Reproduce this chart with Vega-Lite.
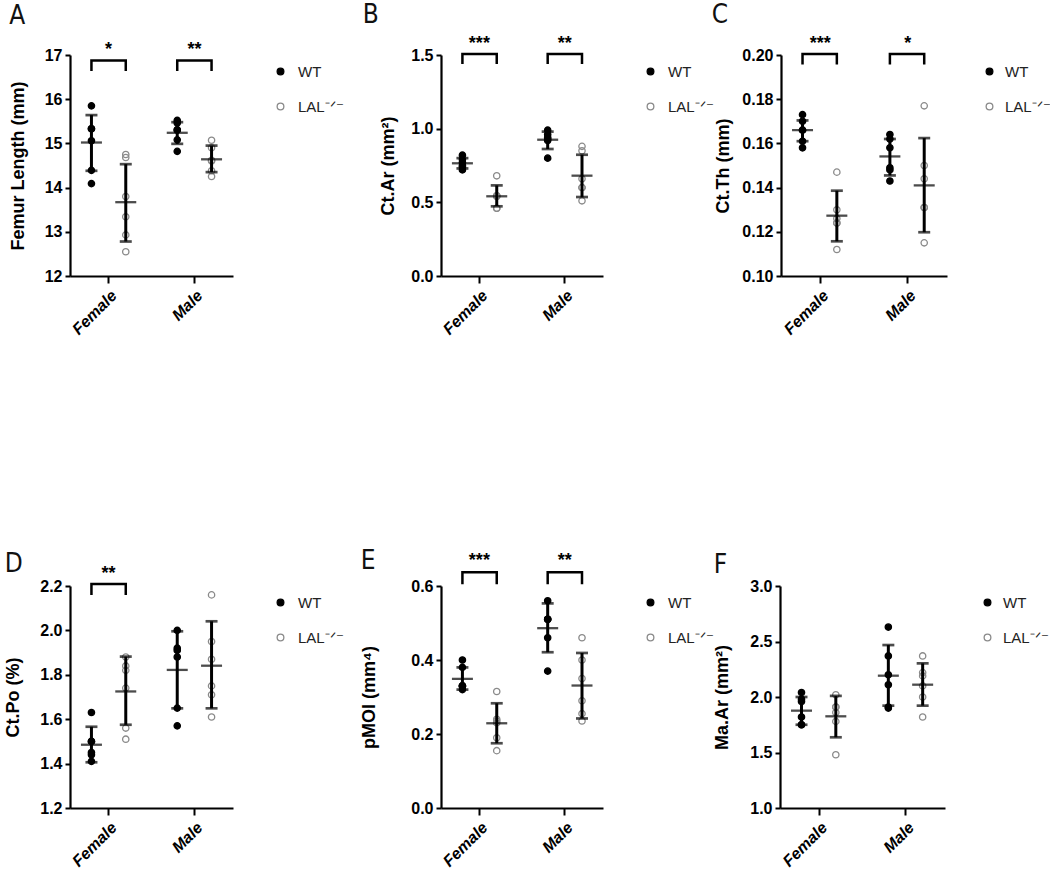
{
  "$schema": "https://vega.github.io/schema/vega-lite/v6.json",
  "padding": {"left": 4, "top": 1, "right": 0, "bottom": 0},
  "background": "white",
  "config": {
    "view": {"stroke": null},
    "axis": {"grid": false, "domainColor": "#000", "domainWidth": 2.2, "tickColor": "#000", "tickWidth": 2, "labelColor": "#000", "titleColor": "#000"},
    "axisY": {"tickSize": 5, "labelFont": "Liberation Sans", "labelFontSize": 16, "labelFontWeight": "bold", "labelPadding": 3, "titleFont": "Liberation Sans", "titleFontSize": 18, "titleFontWeight": "bold", "titlePadding": 17},
    "axisX": {"labelAngle": -45, "labelFont": "Liberation Sans", "labelFontSize": 16, "labelFontStyle": "italic", "labelFontWeight": "bold", "tickSize": 7, "labelPadding": 4},
    "legend": {"orient": "right", "offset": 31, "padding": 9, "symbolSize": 45, "symbolStrokeWidth": 1.3, "labelFont": "Liberation Sans", "labelFontSize": 15, "labelColor": "#222", "rowPadding": 19, "labelOffset": 10},
    "title": {"anchor": "start", "frame": "bounds", "fontSize": 26, "fontWeight": "normal", "font": "DejaVu Sans Condensed", "color": "#111"}
  },
  "datasets": {
    "pts": [
      {"panel":"A","sex":"Female","geno":"WT","v":15.85},{"panel":"A","sex":"Female","geno":"WT","v":15.33},{"panel":"A","sex":"Female","geno":"WT","v":15.33},{"panel":"A","sex":"Female","geno":"WT","v":15.06},{"panel":"A","sex":"Female","geno":"WT","v":14.39},{"panel":"A","sex":"Female","geno":"WT","v":14.09},
      {"panel":"A","sex":"Female","geno":"LAL⁻ᐟ⁻","v":14.75},{"panel":"A","sex":"Female","geno":"LAL⁻ᐟ⁻","v":14.68},{"panel":"A","sex":"Female","geno":"LAL⁻ᐟ⁻","v":13.8},{"panel":"A","sex":"Female","geno":"LAL⁻ᐟ⁻","v":13.34},{"panel":"A","sex":"Female","geno":"LAL⁻ᐟ⁻","v":12.93},{"panel":"A","sex":"Female","geno":"LAL⁻ᐟ⁻","v":12.55},
      {"panel":"A","sex":"Male","geno":"WT","v":15.52},{"panel":"A","sex":"Male","geno":"WT","v":15.46},{"panel":"A","sex":"Male","geno":"WT","v":15.31},{"panel":"A","sex":"Male","geno":"WT","v":15.3},{"panel":"A","sex":"Male","geno":"WT","v":15.08},{"panel":"A","sex":"Male","geno":"WT","v":14.82},
      {"panel":"A","sex":"Male","geno":"LAL⁻ᐟ⁻","v":15.07},{"panel":"A","sex":"Male","geno":"LAL⁻ᐟ⁻","v":14.9},{"panel":"A","sex":"Male","geno":"LAL⁻ᐟ⁻","v":14.62},{"panel":"A","sex":"Male","geno":"LAL⁻ᐟ⁻","v":14.6},{"panel":"A","sex":"Male","geno":"LAL⁻ᐟ⁻","v":14.38},{"panel":"A","sex":"Male","geno":"LAL⁻ᐟ⁻","v":14.25},
      {"panel":"B","sex":"Female","geno":"WT","v":0.82},{"panel":"B","sex":"Female","geno":"WT","v":0.79},{"panel":"B","sex":"Female","geno":"WT","v":0.77},{"panel":"B","sex":"Female","geno":"WT","v":0.75},{"panel":"B","sex":"Female","geno":"WT","v":0.74},{"panel":"B","sex":"Female","geno":"WT","v":0.72},
      {"panel":"B","sex":"Female","geno":"LAL⁻ᐟ⁻","v":0.68},{"panel":"B","sex":"Female","geno":"LAL⁻ᐟ⁻","v":0.545},{"panel":"B","sex":"Female","geno":"LAL⁻ᐟ⁻","v":0.545},{"panel":"B","sex":"Female","geno":"LAL⁻ᐟ⁻","v":0.54},{"panel":"B","sex":"Female","geno":"LAL⁻ᐟ⁻","v":0.46},{"panel":"B","sex":"Female","geno":"LAL⁻ᐟ⁻","v":0.46},
      {"panel":"B","sex":"Male","geno":"WT","v":0.99},{"panel":"B","sex":"Male","geno":"WT","v":0.96},{"panel":"B","sex":"Male","geno":"WT","v":0.94},{"panel":"B","sex":"Male","geno":"WT","v":0.93},{"panel":"B","sex":"Male","geno":"WT","v":0.92},{"panel":"B","sex":"Male","geno":"WT","v":0.8},
      {"panel":"B","sex":"Male","geno":"LAL⁻ᐟ⁻","v":0.88},{"panel":"B","sex":"Male","geno":"LAL⁻ᐟ⁻","v":0.85},{"panel":"B","sex":"Male","geno":"LAL⁻ᐟ⁻","v":0.66},{"panel":"B","sex":"Male","geno":"LAL⁻ᐟ⁻","v":0.6},{"panel":"B","sex":"Male","geno":"LAL⁻ᐟ⁻","v":0.6},{"panel":"B","sex":"Male","geno":"LAL⁻ᐟ⁻","v":0.51},
      {"panel":"C","sex":"Female","geno":"WT","v":0.173},{"panel":"C","sex":"Female","geno":"WT","v":0.17},{"panel":"C","sex":"Female","geno":"WT","v":0.166},{"panel":"C","sex":"Female","geno":"WT","v":0.166},{"panel":"C","sex":"Female","geno":"WT","v":0.161},{"panel":"C","sex":"Female","geno":"WT","v":0.158},
      {"panel":"C","sex":"Female","geno":"LAL⁻ᐟ⁻","v":0.147},{"panel":"C","sex":"Female","geno":"LAL⁻ᐟ⁻","v":0.13},{"panel":"C","sex":"Female","geno":"LAL⁻ᐟ⁻","v":0.126},{"panel":"C","sex":"Female","geno":"LAL⁻ᐟ⁻","v":0.124},{"panel":"C","sex":"Female","geno":"LAL⁻ᐟ⁻","v":0.124},{"panel":"C","sex":"Female","geno":"LAL⁻ᐟ⁻","v":0.112},
      {"panel":"C","sex":"Male","geno":"WT","v":0.164},{"panel":"C","sex":"Male","geno":"WT","v":0.162},{"panel":"C","sex":"Male","geno":"WT","v":0.158},{"panel":"C","sex":"Male","geno":"WT","v":0.149},{"panel":"C","sex":"Male","geno":"WT","v":0.148},{"panel":"C","sex":"Male","geno":"WT","v":0.143},
      {"panel":"C","sex":"Male","geno":"LAL⁻ᐟ⁻","v":0.177},{"panel":"C","sex":"Male","geno":"LAL⁻ᐟ⁻","v":0.15},{"panel":"C","sex":"Male","geno":"LAL⁻ᐟ⁻","v":0.144},{"panel":"C","sex":"Male","geno":"LAL⁻ᐟ⁻","v":0.131},{"panel":"C","sex":"Male","geno":"LAL⁻ᐟ⁻","v":0.131},{"panel":"C","sex":"Male","geno":"LAL⁻ᐟ⁻","v":0.115},
      {"panel":"D","sex":"Female","geno":"WT","v":1.63},{"panel":"D","sex":"Female","geno":"WT","v":1.5},{"panel":"D","sex":"Female","geno":"WT","v":1.5},{"panel":"D","sex":"Female","geno":"WT","v":1.45},{"panel":"D","sex":"Female","geno":"WT","v":1.44},{"panel":"D","sex":"Female","geno":"WT","v":1.41},
      {"panel":"D","sex":"Female","geno":"LAL⁻ᐟ⁻","v":1.88},{"panel":"D","sex":"Female","geno":"LAL⁻ᐟ⁻","v":1.84},{"panel":"D","sex":"Female","geno":"LAL⁻ᐟ⁻","v":1.82},{"panel":"D","sex":"Female","geno":"LAL⁻ᐟ⁻","v":1.74},{"panel":"D","sex":"Female","geno":"LAL⁻ᐟ⁻","v":1.56},{"panel":"D","sex":"Female","geno":"LAL⁻ᐟ⁻","v":1.51},
      {"panel":"D","sex":"Male","geno":"WT","v":2.0},{"panel":"D","sex":"Male","geno":"WT","v":1.92},{"panel":"D","sex":"Male","geno":"WT","v":1.91},{"panel":"D","sex":"Male","geno":"WT","v":1.88},{"panel":"D","sex":"Male","geno":"WT","v":1.65},{"panel":"D","sex":"Male","geno":"WT","v":1.57},
      {"panel":"D","sex":"Male","geno":"LAL⁻ᐟ⁻","v":2.16},{"panel":"D","sex":"Male","geno":"LAL⁻ᐟ⁻","v":1.95},{"panel":"D","sex":"Male","geno":"LAL⁻ᐟ⁻","v":1.87},{"panel":"D","sex":"Male","geno":"LAL⁻ᐟ⁻","v":1.75},{"panel":"D","sex":"Male","geno":"LAL⁻ᐟ⁻","v":1.71},{"panel":"D","sex":"Male","geno":"LAL⁻ᐟ⁻","v":1.61},
      {"panel":"E","sex":"Female","geno":"WT","v":0.4},{"panel":"E","sex":"Female","geno":"WT","v":0.38},{"panel":"E","sex":"Female","geno":"WT","v":0.33},{"panel":"E","sex":"Female","geno":"WT","v":0.33},{"panel":"E","sex":"Female","geno":"WT","v":0.33},{"panel":"E","sex":"Female","geno":"WT","v":0.32},
      {"panel":"E","sex":"Female","geno":"LAL⁻ᐟ⁻","v":0.315},{"panel":"E","sex":"Female","geno":"LAL⁻ᐟ⁻","v":0.24},{"panel":"E","sex":"Female","geno":"LAL⁻ᐟ⁻","v":0.235},{"panel":"E","sex":"Female","geno":"LAL⁻ᐟ⁻","v":0.23},{"panel":"E","sex":"Female","geno":"LAL⁻ᐟ⁻","v":0.19},{"panel":"E","sex":"Female","geno":"LAL⁻ᐟ⁻","v":0.155},
      {"panel":"E","sex":"Male","geno":"WT","v":0.56},{"panel":"E","sex":"Male","geno":"WT","v":0.51},{"panel":"E","sex":"Male","geno":"WT","v":0.51},{"panel":"E","sex":"Male","geno":"WT","v":0.51},{"panel":"E","sex":"Male","geno":"WT","v":0.46},{"panel":"E","sex":"Male","geno":"WT","v":0.37},
      {"panel":"E","sex":"Male","geno":"LAL⁻ᐟ⁻","v":0.46},{"panel":"E","sex":"Male","geno":"LAL⁻ᐟ⁻","v":0.4},{"panel":"E","sex":"Male","geno":"LAL⁻ᐟ⁻","v":0.35},{"panel":"E","sex":"Male","geno":"LAL⁻ᐟ⁻","v":0.29},{"panel":"E","sex":"Male","geno":"LAL⁻ᐟ⁻","v":0.255},{"panel":"E","sex":"Male","geno":"LAL⁻ᐟ⁻","v":0.235},
      {"panel":"F","sex":"Female","geno":"WT","v":2.04},{"panel":"F","sex":"Female","geno":"WT","v":1.98},{"panel":"F","sex":"Female","geno":"WT","v":1.96},{"panel":"F","sex":"Female","geno":"WT","v":1.82},{"panel":"F","sex":"Female","geno":"WT","v":1.75},{"panel":"F","sex":"Female","geno":"WT","v":1.75},
      {"panel":"F","sex":"Female","geno":"LAL⁻ᐟ⁻","v":2.02},{"panel":"F","sex":"Female","geno":"LAL⁻ᐟ⁻","v":1.91},{"panel":"F","sex":"Female","geno":"LAL⁻ᐟ⁻","v":1.91},{"panel":"F","sex":"Female","geno":"LAL⁻ᐟ⁻","v":1.86},{"panel":"F","sex":"Female","geno":"LAL⁻ᐟ⁻","v":1.78},{"panel":"F","sex":"Female","geno":"LAL⁻ᐟ⁻","v":1.48},
      {"panel":"F","sex":"Male","geno":"WT","v":2.63},{"panel":"F","sex":"Male","geno":"WT","v":2.37},{"panel":"F","sex":"Male","geno":"WT","v":2.2},{"panel":"F","sex":"Male","geno":"WT","v":2.11},{"panel":"F","sex":"Male","geno":"WT","v":1.91},{"panel":"F","sex":"Male","geno":"WT","v":1.9},
      {"panel":"F","sex":"Male","geno":"LAL⁻ᐟ⁻","v":2.37},{"panel":"F","sex":"Male","geno":"LAL⁻ᐟ⁻","v":2.22},{"panel":"F","sex":"Male","geno":"LAL⁻ᐟ⁻","v":2.19},{"panel":"F","sex":"Male","geno":"LAL⁻ᐟ⁻","v":2.1},{"panel":"F","sex":"Male","geno":"LAL⁻ᐟ⁻","v":2.0},{"panel":"F","sex":"Male","geno":"LAL⁻ᐟ⁻","v":1.82}
    ],
    "sum": [
      {"panel":"A","sex":"Female","geno":"WT","m":15.02,"lo":14.38,"hi":15.64},
      {"panel":"A","sex":"Female","geno":"LAL⁻ᐟ⁻","m":13.67,"lo":12.78,"hi":14.53},
      {"panel":"A","sex":"Male","geno":"WT","m":15.24,"lo":14.99,"hi":15.48},
      {"panel":"A","sex":"Male","geno":"LAL⁻ᐟ⁻","m":14.64,"lo":14.35,"hi":14.95},
      {"panel":"B","sex":"Female","geno":"WT","m":0.765,"lo":0.73,"hi":0.8},
      {"panel":"B","sex":"Female","geno":"LAL⁻ᐟ⁻","m":0.541,"lo":0.473,"hi":0.615},
      {"panel":"B","sex":"Male","geno":"WT","m":0.925,"lo":0.862,"hi":0.98},
      {"panel":"B","sex":"Male","geno":"LAL⁻ᐟ⁻","m":0.681,"lo":0.536,"hi":0.823},
      {"panel":"C","sex":"Female","geno":"WT","m":0.166,"lo":0.161,"hi":0.1704},
      {"panel":"C","sex":"Female","geno":"LAL⁻ᐟ⁻","m":0.1273,"lo":0.1157,"hi":0.1386},
      {"panel":"C","sex":"Male","geno":"WT","m":0.1541,"lo":0.1455,"hi":0.162},
      {"panel":"C","sex":"Male","geno":"LAL⁻ᐟ⁻","m":0.141,"lo":0.1198,"hi":0.1624},
      {"panel":"D","sex":"Female","geno":"WT","m":1.485,"lo":1.406,"hi":1.566},
      {"panel":"D","sex":"Female","geno":"LAL⁻ᐟ⁻","m":1.725,"lo":1.575,"hi":1.882},
      {"panel":"D","sex":"Male","geno":"WT","m":1.822,"lo":1.649,"hi":1.996},
      {"panel":"D","sex":"Male","geno":"LAL⁻ᐟ⁻","m":1.841,"lo":1.649,"hi":2.041},
      {"panel":"E","sex":"Female","geno":"WT","m":0.349,"lo":0.32,"hi":0.38},
      {"panel":"E","sex":"Female","geno":"LAL⁻ᐟ⁻","m":0.229,"lo":0.175,"hi":0.283},
      {"panel":"E","sex":"Male","geno":"WT","m":0.486,"lo":0.421,"hi":0.553},
      {"panel":"E","sex":"Male","geno":"LAL⁻ᐟ⁻","m":0.331,"lo":0.242,"hi":0.419},
      {"panel":"F","sex":"Female","geno":"WT","m":1.877,"lo":1.75,"hi":2.0},
      {"panel":"F","sex":"Female","geno":"LAL⁻ᐟ⁻","m":1.826,"lo":1.637,"hi":2.01},
      {"panel":"F","sex":"Male","geno":"WT","m":2.192,"lo":1.922,"hi":2.468},
      {"panel":"F","sex":"Male","geno":"LAL⁻ᐟ⁻","m":2.111,"lo":1.922,"hi":2.303}
    ],
    "br": [
      {"panel":"A","sex":"Female","geno":"WT","yb":16.638,"o":1},{"panel":"A","sex":"Female","geno":"WT","yb":16.876,"o":2},{"panel":"A","sex":"Female","geno":"LAL⁻ᐟ⁻","yb":16.876,"o":3},{"panel":"A","sex":"Female","geno":"LAL⁻ᐟ⁻","yb":16.638,"o":4},
      {"panel":"A","sex":"Male","geno":"WT","yb":16.638,"o":1},{"panel":"A","sex":"Male","geno":"WT","yb":16.876,"o":2},{"panel":"A","sex":"Male","geno":"LAL⁻ᐟ⁻","yb":16.876,"o":3},{"panel":"A","sex":"Male","geno":"LAL⁻ᐟ⁻","yb":16.638,"o":4},
      {"panel":"B","sex":"Female","geno":"WT","yb":1.439,"o":1},{"panel":"B","sex":"Female","geno":"WT","yb":1.507,"o":2},{"panel":"B","sex":"Female","geno":"LAL⁻ᐟ⁻","yb":1.507,"o":3},{"panel":"B","sex":"Female","geno":"LAL⁻ᐟ⁻","yb":1.439,"o":4},
      {"panel":"B","sex":"Male","geno":"WT","yb":1.439,"o":1},{"panel":"B","sex":"Male","geno":"WT","yb":1.507,"o":2},{"panel":"B","sex":"Male","geno":"LAL⁻ᐟ⁻","yb":1.507,"o":3},{"panel":"B","sex":"Male","geno":"LAL⁻ᐟ⁻","yb":1.439,"o":4},
      {"panel":"C","sex":"Female","geno":"WT","yb":0.1957,"o":1},{"panel":"C","sex":"Female","geno":"WT","yb":0.2005,"o":2},{"panel":"C","sex":"Female","geno":"LAL⁻ᐟ⁻","yb":0.2005,"o":3},{"panel":"C","sex":"Female","geno":"LAL⁻ᐟ⁻","yb":0.1957,"o":4},
      {"panel":"C","sex":"Male","geno":"WT","yb":0.1957,"o":1},{"panel":"C","sex":"Male","geno":"WT","yb":0.2005,"o":2},{"panel":"C","sex":"Male","geno":"LAL⁻ᐟ⁻","yb":0.2005,"o":3},{"panel":"C","sex":"Male","geno":"LAL⁻ᐟ⁻","yb":0.1957,"o":4},
      {"panel":"D","sex":"Female","geno":"WT","yb":2.159,"o":1},{"panel":"D","sex":"Female","geno":"WT","yb":2.209,"o":2},{"panel":"D","sex":"Female","geno":"LAL⁻ᐟ⁻","yb":2.209,"o":3},{"panel":"D","sex":"Female","geno":"LAL⁻ᐟ⁻","yb":2.159,"o":4},
      {"panel":"E","sex":"Female","geno":"WT","yb":0.605,"o":1},{"panel":"E","sex":"Female","geno":"WT","yb":0.637,"o":2},{"panel":"E","sex":"Female","geno":"LAL⁻ᐟ⁻","yb":0.637,"o":3},{"panel":"E","sex":"Female","geno":"LAL⁻ᐟ⁻","yb":0.605,"o":4},
      {"panel":"E","sex":"Male","geno":"WT","yb":0.605,"o":1},{"panel":"E","sex":"Male","geno":"WT","yb":0.637,"o":2},{"panel":"E","sex":"Male","geno":"LAL⁻ᐟ⁻","yb":0.637,"o":3},{"panel":"E","sex":"Male","geno":"LAL⁻ᐟ⁻","yb":0.605,"o":4}
    ],
    "st": [
      {"panel":"A","sex":"Female","y":17.197,"t":"*"},{"panel":"A","sex":"Male","y":17.197,"t":"**"},
      {"panel":"B","sex":"Female","y":1.604,"t":"***"},{"panel":"B","sex":"Male","y":1.604,"t":"**"},
      {"panel":"C","sex":"Female","y":0.2069,"t":"***"},{"panel":"C","sex":"Male","y":0.2069,"t":"*"},
      {"panel":"D","sex":"Female","y":2.273,"t":"**"},
      {"panel":"E","sex":"Female","y":0.678,"t":"***"},{"panel":"E","sex":"Male","y":0.678,"t":"**"}
    ]
  },
  "spacing": 210,
  "resolve": {"scale": {"fill": "independent", "stroke": "independent"}},
  "vconcat": [
    {
      "spacing": 9,
      "resolve": {"scale": {"fill": "independent", "stroke": "independent"}},
      "hconcat": [
        {
          "width": 163, "height": 221,
          "title": {"text": "A", "offset": 12},
          "layer": [
            {"data": {"name": "pts"}, "transform": [{"filter": "datum.panel == 'A'"}],
             "mark": {"type": "point", "size": 40, "strokeWidth": 1.3, "opacity": 1},
             "encoding": {
               "x": {"field": "sex", "type": "nominal", "scale": {"domain": ["Female","Male"], "paddingInner": 0.2, "paddingOuter": 0.05}, "axis": {"title": null}},
               "xOffset": {"field": "geno", "type": "nominal", "scale": {"domain": ["WT","LAL⁻ᐟ⁻"], "padding": 0}},
               "y": {"field": "v", "type": "quantitative", "scale": {"domain": [12,17], "nice": false, "zero": false}, "axis": {"title": "Femur Length (mm)", "titlePadding": 17, "values": [12,13,14,15,16,17], "format": "d"}},
               "fill": {"field": "geno", "type": "nominal", "scale": {"domain": ["WT","LAL⁻ᐟ⁻"], "range": ["#000000","transparent"]}, "legend": {"title": null}},
               "stroke": {"field": "geno", "type": "nominal", "scale": {"domain": ["WT","LAL⁻ᐟ⁻"], "range": ["#000000","#8a8a8a"]}, "legend": {"title": null}}
             }},
            {"data": {"name": "sum"}, "transform": [{"filter": "datum.panel == 'A'"}],
             "mark": {"type": "rule", "strokeWidth": 3, "color": "#000"},
             "encoding": {
               "x": {"field": "sex", "type": "nominal"},
               "xOffset": {"field": "geno", "type": "nominal"},
               "y": {"field": "lo", "type": "quantitative", "scale": {"domain": [12,17], "nice": false, "zero": false}},
               "y2": {"field": "hi"}
             }},
            {"data": {"name": "sum"}, "transform": [{"filter": "datum.panel == 'A'"}],
             "mark": {"type": "tick", "orient": "horizontal", "size": 21, "thickness": 2.3, "color": "#000"},
             "encoding": {
               "x": {"field": "sex", "type": "nominal"},
               "xOffset": {"field": "geno", "type": "nominal"},
               "y": {"field": "m", "type": "quantitative", "scale": {"domain": [12,17], "nice": false, "zero": false}}
             }},
            {"data": {"name": "sum"}, "transform": [{"filter": "datum.panel == 'A'"}],
             "mark": {"type": "tick", "orient": "horizontal", "size": 12, "thickness": 2.7, "color": "#000"},
             "encoding": {
               "x": {"field": "sex", "type": "nominal"},
               "xOffset": {"field": "geno", "type": "nominal"},
               "y": {"field": "lo", "type": "quantitative", "scale": {"domain": [12,17], "nice": false, "zero": false}}
             }},
            {"data": {"name": "sum"}, "transform": [{"filter": "datum.panel == 'A'"}],
             "mark": {"type": "tick", "orient": "horizontal", "size": 12, "thickness": 2.7, "color": "#000"},
             "encoding": {
               "x": {"field": "sex", "type": "nominal"},
               "xOffset": {"field": "geno", "type": "nominal"},
               "y": {"field": "hi", "type": "quantitative", "scale": {"domain": [12,17], "nice": false, "zero": false}}
             }},
            {"data": {"name": "br"}, "transform": [{"filter": "datum.panel == 'A'"}],
             "mark": {"type": "line", "color": "#000", "strokeWidth": 2.5, "strokeJoin": "miter"},
             "encoding": {
               "x": {"field": "sex", "type": "nominal"},
               "xOffset": {"field": "geno", "type": "nominal"},
               "y": {"field": "yb", "type": "quantitative", "scale": {"domain": [12,17], "nice": false, "zero": false}},
               "detail": {"field": "sex"},
               "order": {"field": "o", "type": "quantitative"}
             }},
            {"data": {"name": "st"}, "transform": [{"filter": "datum.panel == 'A'"}],
             "mark": {"type": "text", "fontSize": 18, "fontWeight": "bold", "font": "Liberation Sans", "baseline": "middle", "dy": 4, "color": "#000"},
             "encoding": {
               "x": {"field": "sex", "type": "nominal"},
               "y": {"field": "y", "type": "quantitative", "scale": {"domain": [12,17], "nice": false, "zero": false}},
               "text": {"field": "t"}
             }}
          ]
        },
        {
          "spacing": -12,
          "resolve": {"scale": {"fill": "independent", "stroke": "independent"}},
          "hconcat": [
            {
              "width": 162, "height": 221,
              "title": {"text": "B", "offset": 7, "dx": -17},
              "layer": [
                {"data": {"name": "pts"}, "transform": [{"filter": "datum.panel == 'B'"}],
                 "mark": {"type": "point", "size": 40, "strokeWidth": 1.3, "opacity": 1},
                 "encoding": {
                   "x": {"field": "sex", "type": "nominal", "scale": {"domain": ["Female","Male"], "paddingInner": 0.2, "paddingOuter": 0.05}, "axis": {"title": null}},
                   "xOffset": {"field": "geno", "type": "nominal", "scale": {"domain": ["WT","LAL⁻ᐟ⁻"], "padding": 0}},
                   "y": {"field": "v", "type": "quantitative", "scale": {"domain": [0,1.5], "nice": false, "zero": false}, "axis": {"title": "Ct.Ar (mm²)", "titlePadding": 13, "values": [0,0.5,1,1.5], "format": ".1f"}},
                   "fill": {"field": "geno", "type": "nominal", "scale": {"domain": ["WT","LAL⁻ᐟ⁻"], "range": ["#000000","transparent"]}, "legend": {"title": null}},
                   "stroke": {"field": "geno", "type": "nominal", "scale": {"domain": ["WT","LAL⁻ᐟ⁻"], "range": ["#000000","#8a8a8a"]}, "legend": {"title": null}}
                 }},
                {"data": {"name": "sum"}, "transform": [{"filter": "datum.panel == 'B'"}],
                 "mark": {"type": "rule", "strokeWidth": 3, "color": "#000"},
                 "encoding": {
                   "x": {"field": "sex", "type": "nominal"},
                   "xOffset": {"field": "geno", "type": "nominal"},
                   "y": {"field": "lo", "type": "quantitative", "scale": {"domain": [0,1.5], "nice": false, "zero": false}},
                   "y2": {"field": "hi"}
                 }},
                {"data": {"name": "sum"}, "transform": [{"filter": "datum.panel == 'B'"}],
                 "mark": {"type": "tick", "orient": "horizontal", "size": 21, "thickness": 2.3, "color": "#000"},
                 "encoding": {
                   "x": {"field": "sex", "type": "nominal"},
                   "xOffset": {"field": "geno", "type": "nominal"},
                   "y": {"field": "m", "type": "quantitative", "scale": {"domain": [0,1.5], "nice": false, "zero": false}}
                 }},
                {"data": {"name": "sum"}, "transform": [{"filter": "datum.panel == 'B'"}],
                 "mark": {"type": "tick", "orient": "horizontal", "size": 12, "thickness": 2.7, "color": "#000"},
                 "encoding": {
                   "x": {"field": "sex", "type": "nominal"},
                   "xOffset": {"field": "geno", "type": "nominal"},
                   "y": {"field": "lo", "type": "quantitative", "scale": {"domain": [0,1.5], "nice": false, "zero": false}}
                 }},
                {"data": {"name": "sum"}, "transform": [{"filter": "datum.panel == 'B'"}],
                 "mark": {"type": "tick", "orient": "horizontal", "size": 12, "thickness": 2.7, "color": "#000"},
                 "encoding": {
                   "x": {"field": "sex", "type": "nominal"},
                   "xOffset": {"field": "geno", "type": "nominal"},
                   "y": {"field": "hi", "type": "quantitative", "scale": {"domain": [0,1.5], "nice": false, "zero": false}}
                 }},
                {"data": {"name": "br"}, "transform": [{"filter": "datum.panel == 'B'"}],
                 "mark": {"type": "line", "color": "#000", "strokeWidth": 2.5, "strokeJoin": "miter"},
                 "encoding": {
                   "x": {"field": "sex", "type": "nominal"},
                   "xOffset": {"field": "geno", "type": "nominal"},
                   "y": {"field": "yb", "type": "quantitative", "scale": {"domain": [0,1.5], "nice": false, "zero": false}},
                   "detail": {"field": "sex"},
                   "order": {"field": "o", "type": "quantitative"}
                 }},
                {"data": {"name": "st"}, "transform": [{"filter": "datum.panel == 'B'"}],
                 "mark": {"type": "text", "fontSize": 18, "fontWeight": "bold", "font": "Liberation Sans", "baseline": "middle", "dy": 4, "color": "#000"},
                 "encoding": {
                   "x": {"field": "sex", "type": "nominal"},
                   "y": {"field": "y", "type": "quantitative", "scale": {"domain": [0,1.5], "nice": false, "zero": false}},
                   "text": {"field": "t"}
                 }}
              ]
            },
            {
              "width": 166, "height": 221,
              "title": {"text": "C", "offset": 7, "dx": -3},
              "layer": [
                {"data": {"name": "pts"}, "transform": [{"filter": "datum.panel == 'C'"}],
                 "mark": {"type": "point", "size": 40, "strokeWidth": 1.3, "opacity": 1},
                 "encoding": {
                   "x": {"field": "sex", "type": "nominal", "scale": {"domain": ["Female","Male"], "paddingInner": 0.2, "paddingOuter": 0.05}, "axis": {"title": null}},
                   "xOffset": {"field": "geno", "type": "nominal", "scale": {"domain": ["WT","LAL⁻ᐟ⁻"], "padding": 0}},
                   "y": {"field": "v", "type": "quantitative", "scale": {"domain": [0.1,0.2], "nice": false, "zero": false}, "axis": {"title": "Ct.Th (mm)", "titlePadding": 9, "values": [0.1,0.12,0.14,0.16,0.18,0.2], "format": ".2f"}},
                   "fill": {"field": "geno", "type": "nominal", "scale": {"domain": ["WT","LAL⁻ᐟ⁻"], "range": ["#000000","transparent"]}, "legend": {"title": null, "offset": 26, "labelOffset": 8}},
                   "stroke": {"field": "geno", "type": "nominal", "scale": {"domain": ["WT","LAL⁻ᐟ⁻"], "range": ["#000000","#8a8a8a"]}, "legend": {"title": null, "offset": 26, "labelOffset": 8}}
                 }},
                {"data": {"name": "sum"}, "transform": [{"filter": "datum.panel == 'C'"}],
                 "mark": {"type": "rule", "strokeWidth": 3, "color": "#000"},
                 "encoding": {
                   "x": {"field": "sex", "type": "nominal"},
                   "xOffset": {"field": "geno", "type": "nominal"},
                   "y": {"field": "lo", "type": "quantitative", "scale": {"domain": [0.1,0.2], "nice": false, "zero": false}},
                   "y2": {"field": "hi"}
                 }},
                {"data": {"name": "sum"}, "transform": [{"filter": "datum.panel == 'C'"}],
                 "mark": {"type": "tick", "orient": "horizontal", "size": 21, "thickness": 2.3, "color": "#000"},
                 "encoding": {
                   "x": {"field": "sex", "type": "nominal"},
                   "xOffset": {"field": "geno", "type": "nominal"},
                   "y": {"field": "m", "type": "quantitative", "scale": {"domain": [0.1,0.2], "nice": false, "zero": false}}
                 }},
                {"data": {"name": "sum"}, "transform": [{"filter": "datum.panel == 'C'"}],
                 "mark": {"type": "tick", "orient": "horizontal", "size": 12, "thickness": 2.7, "color": "#000"},
                 "encoding": {
                   "x": {"field": "sex", "type": "nominal"},
                   "xOffset": {"field": "geno", "type": "nominal"},
                   "y": {"field": "lo", "type": "quantitative", "scale": {"domain": [0.1,0.2], "nice": false, "zero": false}}
                 }},
                {"data": {"name": "sum"}, "transform": [{"filter": "datum.panel == 'C'"}],
                 "mark": {"type": "tick", "orient": "horizontal", "size": 12, "thickness": 2.7, "color": "#000"},
                 "encoding": {
                   "x": {"field": "sex", "type": "nominal"},
                   "xOffset": {"field": "geno", "type": "nominal"},
                   "y": {"field": "hi", "type": "quantitative", "scale": {"domain": [0.1,0.2], "nice": false, "zero": false}}
                 }},
                {"data": {"name": "br"}, "transform": [{"filter": "datum.panel == 'C'"}],
                 "mark": {"type": "line", "color": "#000", "strokeWidth": 2.5, "strokeJoin": "miter"},
                 "encoding": {
                   "x": {"field": "sex", "type": "nominal"},
                   "xOffset": {"field": "geno", "type": "nominal"},
                   "y": {"field": "yb", "type": "quantitative", "scale": {"domain": [0.1,0.2], "nice": false, "zero": false}},
                   "detail": {"field": "sex"},
                   "order": {"field": "o", "type": "quantitative"}
                 }},
                {"data": {"name": "st"}, "transform": [{"filter": "datum.panel == 'C'"}],
                 "mark": {"type": "text", "fontSize": 18, "fontWeight": "bold", "font": "Liberation Sans", "baseline": "middle", "dy": 4, "color": "#000"},
                 "encoding": {
                   "x": {"field": "sex", "type": "nominal"},
                   "y": {"field": "y", "type": "quantitative", "scale": {"domain": [0.1,0.2], "nice": false, "zero": false}},
                   "text": {"field": "t"}
                 }}
              ]
            }
          ]
        }
      ]
    },
    {
      "spacing": 7,
      "resolve": {"scale": {"fill": "independent", "stroke": "independent"}},
      "hconcat": [
        {
          "width": 163, "height": 222,
          "title": {"text": "D", "offset": -12},
          "layer": [
            {"data": {"name": "pts"}, "transform": [{"filter": "datum.panel == 'D'"}],
             "mark": {"type": "point", "size": 40, "strokeWidth": 1.3, "opacity": 1},
             "encoding": {
               "x": {"field": "sex", "type": "nominal", "scale": {"domain": ["Female","Male"], "paddingInner": 0.2, "paddingOuter": 0.05}, "axis": {"title": null}},
               "xOffset": {"field": "geno", "type": "nominal", "scale": {"domain": ["WT","LAL⁻ᐟ⁻"], "padding": 0}},
               "y": {"field": "v", "type": "quantitative", "scale": {"domain": [1.2,2.2], "nice": false, "zero": false}, "axis": {"title": "Ct.Po (%)", "titlePadding": 17, "values": [1.2,1.4,1.6,1.8,2.0,2.2], "format": ".1f"}},
               "fill": {"field": "geno", "type": "nominal", "scale": {"domain": ["WT","LAL⁻ᐟ⁻"], "range": ["#000000","transparent"]}, "legend": {"title": null}},
               "stroke": {"field": "geno", "type": "nominal", "scale": {"domain": ["WT","LAL⁻ᐟ⁻"], "range": ["#000000","#8a8a8a"]}, "legend": {"title": null}}
             }},
            {"data": {"name": "sum"}, "transform": [{"filter": "datum.panel == 'D'"}],
             "mark": {"type": "rule", "strokeWidth": 3, "color": "#000"},
             "encoding": {
               "x": {"field": "sex", "type": "nominal"},
               "xOffset": {"field": "geno", "type": "nominal"},
               "y": {"field": "lo", "type": "quantitative", "scale": {"domain": [1.2,2.2], "nice": false, "zero": false}},
               "y2": {"field": "hi"}
             }},
            {"data": {"name": "sum"}, "transform": [{"filter": "datum.panel == 'D'"}],
             "mark": {"type": "tick", "orient": "horizontal", "size": 21, "thickness": 2.3, "color": "#000"},
             "encoding": {
               "x": {"field": "sex", "type": "nominal"},
               "xOffset": {"field": "geno", "type": "nominal"},
               "y": {"field": "m", "type": "quantitative", "scale": {"domain": [1.2,2.2], "nice": false, "zero": false}}
             }},
            {"data": {"name": "sum"}, "transform": [{"filter": "datum.panel == 'D'"}],
             "mark": {"type": "tick", "orient": "horizontal", "size": 12, "thickness": 2.7, "color": "#000"},
             "encoding": {
               "x": {"field": "sex", "type": "nominal"},
               "xOffset": {"field": "geno", "type": "nominal"},
               "y": {"field": "lo", "type": "quantitative", "scale": {"domain": [1.2,2.2], "nice": false, "zero": false}}
             }},
            {"data": {"name": "sum"}, "transform": [{"filter": "datum.panel == 'D'"}],
             "mark": {"type": "tick", "orient": "horizontal", "size": 12, "thickness": 2.7, "color": "#000"},
             "encoding": {
               "x": {"field": "sex", "type": "nominal"},
               "xOffset": {"field": "geno", "type": "nominal"},
               "y": {"field": "hi", "type": "quantitative", "scale": {"domain": [1.2,2.2], "nice": false, "zero": false}}
             }},
            {"data": {"name": "br"}, "transform": [{"filter": "datum.panel == 'D'"}],
             "mark": {"type": "line", "color": "#000", "strokeWidth": 2.5, "strokeJoin": "miter"},
             "encoding": {
               "x": {"field": "sex", "type": "nominal"},
               "xOffset": {"field": "geno", "type": "nominal"},
               "y": {"field": "yb", "type": "quantitative", "scale": {"domain": [1.2,2.2], "nice": false, "zero": false}},
               "detail": {"field": "sex"},
               "order": {"field": "o", "type": "quantitative"}
             }},
            {"data": {"name": "st"}, "transform": [{"filter": "datum.panel == 'D'"}],
             "mark": {"type": "text", "fontSize": 18, "fontWeight": "bold", "font": "Liberation Sans", "baseline": "middle", "dy": 4, "color": "#000"},
             "encoding": {
               "x": {"field": "sex", "type": "nominal"},
               "y": {"field": "y", "type": "quantitative", "scale": {"domain": [1.2,2.2], "nice": false, "zero": false}},
               "text": {"field": "t"}
             }}
          ]
        },
        {
          "spacing": -10,
          "resolve": {"scale": {"fill": "independent", "stroke": "independent"}},
          "hconcat": [
            {
              "width": 162, "height": 222,
              "title": {"text": "E", "offset": -22},
              "layer": [
                {"data": {"name": "pts"}, "transform": [{"filter": "datum.panel == 'E'"}],
                 "mark": {"type": "point", "size": 40, "strokeWidth": 1.3, "opacity": 1},
                 "encoding": {
                   "x": {"field": "sex", "type": "nominal", "scale": {"domain": ["Female","Male"], "paddingInner": 0.2, "paddingOuter": 0.05}, "axis": {"title": null}},
                   "xOffset": {"field": "geno", "type": "nominal", "scale": {"domain": ["WT","LAL⁻ᐟ⁻"], "padding": 0}},
                   "y": {"field": "v", "type": "quantitative", "scale": {"domain": [0,0.6], "nice": false, "zero": false}, "axis": {"title": "pMOI (mm⁴)", "titlePadding": 32, "values": [0,0.2,0.4,0.6], "format": ".1f"}},
                   "fill": {"field": "geno", "type": "nominal", "scale": {"domain": ["WT","LAL⁻ᐟ⁻"], "range": ["#000000","transparent"]}, "legend": {"title": null}},
                   "stroke": {"field": "geno", "type": "nominal", "scale": {"domain": ["WT","LAL⁻ᐟ⁻"], "range": ["#000000","#8a8a8a"]}, "legend": {"title": null}}
                 }},
                {"data": {"name": "sum"}, "transform": [{"filter": "datum.panel == 'E'"}],
                 "mark": {"type": "rule", "strokeWidth": 3, "color": "#000"},
                 "encoding": {
                   "x": {"field": "sex", "type": "nominal"},
                   "xOffset": {"field": "geno", "type": "nominal"},
                   "y": {"field": "lo", "type": "quantitative", "scale": {"domain": [0,0.6], "nice": false, "zero": false}},
                   "y2": {"field": "hi"}
                 }},
                {"data": {"name": "sum"}, "transform": [{"filter": "datum.panel == 'E'"}],
                 "mark": {"type": "tick", "orient": "horizontal", "size": 21, "thickness": 2.3, "color": "#000"},
                 "encoding": {
                   "x": {"field": "sex", "type": "nominal"},
                   "xOffset": {"field": "geno", "type": "nominal"},
                   "y": {"field": "m", "type": "quantitative", "scale": {"domain": [0,0.6], "nice": false, "zero": false}}
                 }},
                {"data": {"name": "sum"}, "transform": [{"filter": "datum.panel == 'E'"}],
                 "mark": {"type": "tick", "orient": "horizontal", "size": 12, "thickness": 2.7, "color": "#000"},
                 "encoding": {
                   "x": {"field": "sex", "type": "nominal"},
                   "xOffset": {"field": "geno", "type": "nominal"},
                   "y": {"field": "lo", "type": "quantitative", "scale": {"domain": [0,0.6], "nice": false, "zero": false}}
                 }},
                {"data": {"name": "sum"}, "transform": [{"filter": "datum.panel == 'E'"}],
                 "mark": {"type": "tick", "orient": "horizontal", "size": 12, "thickness": 2.7, "color": "#000"},
                 "encoding": {
                   "x": {"field": "sex", "type": "nominal"},
                   "xOffset": {"field": "geno", "type": "nominal"},
                   "y": {"field": "hi", "type": "quantitative", "scale": {"domain": [0,0.6], "nice": false, "zero": false}}
                 }},
                {"data": {"name": "br"}, "transform": [{"filter": "datum.panel == 'E'"}],
                 "mark": {"type": "line", "color": "#000", "strokeWidth": 2.5, "strokeJoin": "miter"},
                 "encoding": {
                   "x": {"field": "sex", "type": "nominal"},
                   "xOffset": {"field": "geno", "type": "nominal"},
                   "y": {"field": "yb", "type": "quantitative", "scale": {"domain": [0,0.6], "nice": false, "zero": false}},
                   "detail": {"field": "sex"},
                   "order": {"field": "o", "type": "quantitative"}
                 }},
                {"data": {"name": "st"}, "transform": [{"filter": "datum.panel == 'E'"}],
                 "mark": {"type": "text", "fontSize": 18, "fontWeight": "bold", "font": "Liberation Sans", "baseline": "middle", "dy": 4, "color": "#000"},
                 "encoding": {
                   "x": {"field": "sex", "type": "nominal"},
                   "y": {"field": "y", "type": "quantitative", "scale": {"domain": [0,0.6], "nice": false, "zero": false}},
                   "text": {"field": "t"}
                 }}
              ]
            },
            {
              "width": 165, "height": 222,
              "title": {"text": "F", "offset": 0},
              "layer": [
                {"data": {"name": "pts"}, "transform": [{"filter": "datum.panel == 'F'"}],
                 "mark": {"type": "point", "size": 40, "strokeWidth": 1.3, "opacity": 1},
                 "encoding": {
                   "x": {"field": "sex", "type": "nominal", "scale": {"domain": ["Female","Male"], "paddingInner": 0.2, "paddingOuter": 0.05}, "axis": {"title": null}},
                   "xOffset": {"field": "geno", "type": "nominal", "scale": {"domain": ["WT","LAL⁻ᐟ⁻"], "padding": 0}},
                   "y": {"field": "v", "type": "quantitative", "scale": {"domain": [1,3], "nice": false, "zero": false}, "axis": {"title": "Ma.Ar (mm²)", "titlePadding": 18, "values": [1,1.5,2,2.5,3], "format": ".1f"}},
                   "fill": {"field": "geno", "type": "nominal", "scale": {"domain": ["WT","LAL⁻ᐟ⁻"], "range": ["#000000","transparent"]}, "legend": {"title": null, "offset": 26, "labelOffset": 8}},
                   "stroke": {"field": "geno", "type": "nominal", "scale": {"domain": ["WT","LAL⁻ᐟ⁻"], "range": ["#000000","#8a8a8a"]}, "legend": {"title": null, "offset": 26, "labelOffset": 8}}
                 }},
                {"data": {"name": "sum"}, "transform": [{"filter": "datum.panel == 'F'"}],
                 "mark": {"type": "rule", "strokeWidth": 3, "color": "#000"},
                 "encoding": {
                   "x": {"field": "sex", "type": "nominal"},
                   "xOffset": {"field": "geno", "type": "nominal"},
                   "y": {"field": "lo", "type": "quantitative", "scale": {"domain": [1,3], "nice": false, "zero": false}},
                   "y2": {"field": "hi"}
                 }},
                {"data": {"name": "sum"}, "transform": [{"filter": "datum.panel == 'F'"}],
                 "mark": {"type": "tick", "orient": "horizontal", "size": 21, "thickness": 2.3, "color": "#000"},
                 "encoding": {
                   "x": {"field": "sex", "type": "nominal"},
                   "xOffset": {"field": "geno", "type": "nominal"},
                   "y": {"field": "m", "type": "quantitative", "scale": {"domain": [1,3], "nice": false, "zero": false}}
                 }},
                {"data": {"name": "sum"}, "transform": [{"filter": "datum.panel == 'F'"}],
                 "mark": {"type": "tick", "orient": "horizontal", "size": 12, "thickness": 2.7, "color": "#000"},
                 "encoding": {
                   "x": {"field": "sex", "type": "nominal"},
                   "xOffset": {"field": "geno", "type": "nominal"},
                   "y": {"field": "lo", "type": "quantitative", "scale": {"domain": [1,3], "nice": false, "zero": false}}
                 }},
                {"data": {"name": "sum"}, "transform": [{"filter": "datum.panel == 'F'"}],
                 "mark": {"type": "tick", "orient": "horizontal", "size": 12, "thickness": 2.7, "color": "#000"},
                 "encoding": {
                   "x": {"field": "sex", "type": "nominal"},
                   "xOffset": {"field": "geno", "type": "nominal"},
                   "y": {"field": "hi", "type": "quantitative", "scale": {"domain": [1,3], "nice": false, "zero": false}}
                 }}
              ]
            }
          ]
        }
      ]
    }
  ]
}
